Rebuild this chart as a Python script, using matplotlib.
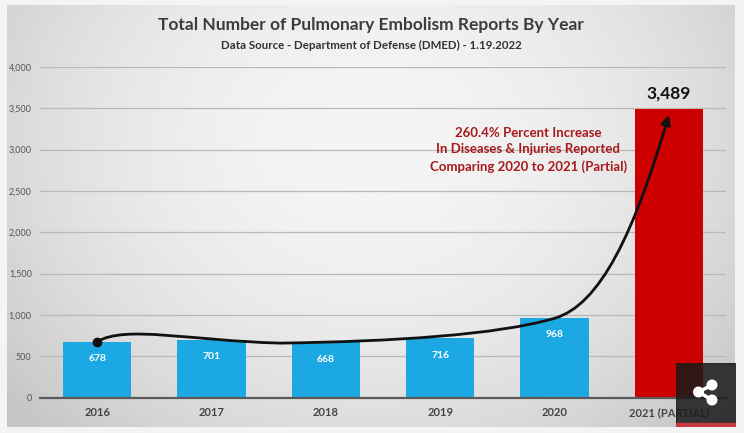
import numpy as np
import matplotlib.pyplot as plt
from matplotlib.path import Path
from matplotlib.patches import FancyArrowPatch, Rectangle, Circle

# data
years = ['2016', '2017', '2018', '2019', '2020', '2021 (PARTIAL)']
reports = [678, 701, 668, 716, 968, 3489]
bar_colors = ['#1ca8e2'] * 5 + ['#cc0000']
y_ticks = [0, 500, 1000, 1500, 2000, 2500, 3000, 3500, 4000]

title = 'Total Number of Pulmonary Embolism Reports By Year'
subtitle = 'Data Source - Department of Defense (DMED) - 1.19.2022'
note = '260.4% Percent Increase\nIn Diseases & Injuries Reported\nComparing 2020 to 2021 (Partial)'

# hand drawn trend arrow (bezier control points, data units)
curve_pts = [(0.0, 678), (0.25, 880), (0.8, 690), (1.6, 660),
             (2.6, 680), (3.5, 760), (4.0, 960),
             (4.4, 1120), (4.7, 2000), (5.0, 3420)]

plt.rcParams['font.family'] = ['Lato', 'DejaVu Sans']

W, H = 744, 433
fig = plt.figure(figsize=(W / 100, H / 100), dpi=100)
fig.patch.set_facecolor('#f4f4f4')

###############################################################################
# Grey gradient panel behind the chart
bg = fig.add_axes([7 / W, (H - 427) / H, 728 / W, 422 / H])
gx, gy = np.meshgrid(np.linspace(-1, 1, 300), np.linspace(-1, 1, 200))
r = np.sqrt((gx / 1.1) ** 2 + ((gy + 0.35) / 1.6) ** 2)
shade = 0.96 - 0.13 * np.clip(r, 0, 1.2) ** 2
bg.imshow(np.dstack([shade] * 3), aspect='auto', extent=(0, 1, 0, 1))
bg.set_axis_off()

###############################################################################
# Main bar chart
ax = fig.add_axes([40 / W, (H - 397.7) / H, 686 / W, 330.8 / H])
ax.patch.set_alpha(0)
x = np.arange(len(years))
bars = ax.bar(x, reports, width=0.6, color=bar_colors, zorder=3)

ax.set_xlim(-0.5, 5.5)
ax.set_ylim(0, 4000)
ax.set_yticks(y_ticks)
ax.set_yticklabels([f'{v:,}' for v in y_ticks])
ax.set_xticks(x)
ax.set_xticklabels(years)
ax.yaxis.grid(True, color='#b9b9b9', lw=0.9)
ax.set_axisbelow(True)
for side in ['top', 'right', 'left']:
    ax.spines[side].set_visible(False)
ax.spines['bottom'].set_color('#5a5a5a')
ax.spines['bottom'].set_linewidth(1.6)
ax.spines['bottom'].set_zorder(4)
ax.tick_params(axis='y', length=0, pad=6, labelsize=6.5, labelcolor='#555555')
ax.tick_params(axis='x', length=0, pad=7, labelsize=8, labelcolor='#444444')
for lab in ax.get_xticklabels():
    lab.set_fontweight('bold')

# value labels
for xi, v in zip(x[:-1], reports[:-1]):
    ax.annotate(f'{v:,}', (xi, v), xytext=(0, -12), textcoords='offset points',
                ha='center', va='center', color='white', fontsize=7.5,
                fontweight='bold', zorder=5)
ax.annotate(f'{reports[-1]:,}', (x[-1], reports[-1]), xytext=(0, 11),
            textcoords='offset points', ha='center', va='center',
            color='#111111', fontsize=12.5, fontweight='bold', zorder=5)

# annotation text
ax.text(3.77, 3000, note, ha='center', va='center', color='#a8191b',
        fontsize=9.5, fontweight='bold', linespacing=1.45, zorder=5)

# trend arrow
codes = [Path.MOVETO] + [Path.CURVE4] * 9
arrow = FancyArrowPatch(path=Path(curve_pts, codes), arrowstyle='-|>',
                        mutation_scale=14, color='#111111', lw=2, zorder=6)
ax.add_patch(arrow)
ax.plot(curve_pts[0][0], curve_pts[0][1], 'o', color='#111111', ms=6, zorder=7)

###############################################################################
# Title block
fig.text(371 / W, 1 - 25 / H, title, ha='center', va='center',
         fontsize=12.5, fontweight='bold', color='#3c3c3c')
fig.text(371 / W, 1 - 45 / H, subtitle, ha='center', va='center',
         fontsize=8.3, fontweight='bold', color='#333333')

###############################################################################
# Share button overlay (bottom right)
sh = fig.add_axes([676 / W, (H - 427) / H, 60 / W, 64 / H])
sh.set_xlim(0, 60)
sh.set_ylim(0, 64)
sh.set_axis_off()
sh.add_patch(Rectangle((0, 0), 60, 64, color='#1a1a1a', alpha=0.85))
sh.add_patch(Rectangle((0, 0), 60, 4, color='#c8383c'))
pts = [(36, 42), (22.5, 35), (36, 27)]
sh.plot([pts[0][0], pts[1][0], pts[2][0]], [pts[0][1], pts[1][1], pts[2][1]],
        color='white', lw=2.5)
for px, py in pts:
    sh.add_patch(Circle((px, py), 4.8, color='white'))

fig.savefig('out.png', dpi=100, facecolor=fig.get_facecolor())
